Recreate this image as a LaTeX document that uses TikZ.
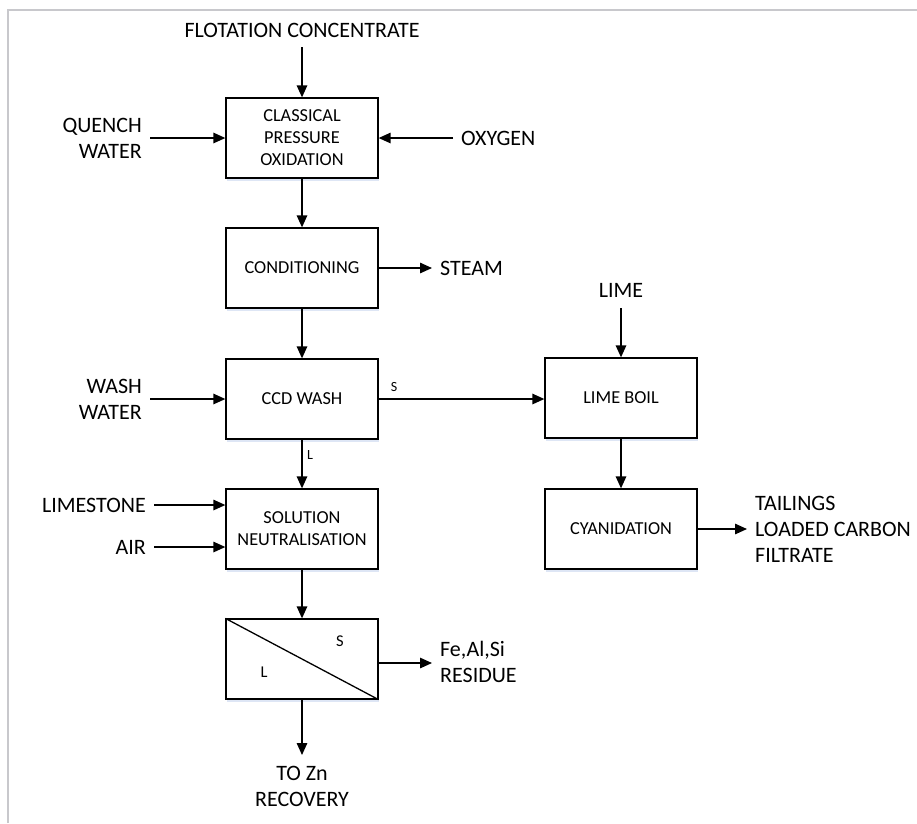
\documentclass[tikz,border=0pt]{standalone}
\usepackage{fontspec}
\setmainfont{Carlito}
\usetikzlibrary{arrows.meta,shadows}
\definecolor{frame}{RGB}{200,200,204}
\definecolor{shade}{RGB}{190,205,235}
\begin{document}
\begin{tikzpicture}[x=1pt,y=-1pt,
 box/.style={draw,line width=1.3pt,minimum width=152pt,minimum height=80pt,align=center,
   font=\fontsize{18.3}{22}\selectfont,fill=white,inner sep=0pt,
   drop shadow={shadow xshift=1pt,shadow yshift=-2.5pt,fill=shade,opacity=0.5}},
 lab/.style={font=\fontsize{22}{26}\selectfont,inner sep=0pt},
 small/.style={font=\fontsize{14}{16}\selectfont,inner sep=0pt},
 mid/.style={font=\fontsize{16.5}{18}\selectfont,inner sep=0pt},
 flow/.style={line width=1.4pt,-{Triangle[length=12pt,width=10.5pt]}}]
\useasboundingbox (0,0) rectangle (917,823);
\draw[frame,line width=1.5pt] (8,823) -- (8,10) -- (917,10);

% process boxes
\node[box] (cpo)  at (302,138) {CLASSICAL\\PRESSURE\\OXIDATION};
\node[box] (cond) at (302,268) {CONDITIONING};
\node[box] (ccd)  at (302,399) {CCD WASH};
\node[box] (neut) at (302,529) {SOLUTION\\NEUTRALISATION};
\node[box] (sep)  at (302,659) {};
\node[box] (boil) at (621,398) {LIME BOIL};
\node[box] (cyan) at (621,529) {CYANIDATION};
\draw[line width=1.3pt] (sep.north west) -- (sep.south east);
\node[mid] (sepS) at (340,641) {S};
\node[mid] (sepL) at (264,672) {L};

% labels
\node[lab] (flot) at (302,30) {FLOTATION CONCENTRATE};
\node[lab,align=right,anchor=east] (quench) at (142,138) {QUENCH\\WATER};
\node[lab,anchor=west] (oxy) at (461,138) {OXYGEN};
\node[lab,anchor=west] (steam) at (440,268) {STEAM};
\node[lab,align=right,anchor=east] (wash) at (142,399) {WASH\\WATER};
\node[lab] (lime) at (621,290) {LIME};
\node[lab,anchor=east] (limestone) at (146,505) {LIMESTONE};
\node[lab,anchor=east] (air) at (146,547) {AIR};
\node[lab,align=left,anchor=west] (tail) at (755,529) {TAILINGS\\LOADED CARBON\\FILTRATE};
\node[lab,align=left,anchor=west] (fe) at (440,662) {Fe,Al,Si\\RESIDUE};
\node[lab,align=center] (zn) at (302,786) {TO Zn\\RECOVERY};
\node[small] (ccdS) at (394,387) {S};
\node[small] (ccdL) at (310,455) {L};

% free ends
\coordinate (flotA) at (302,47);
\coordinate (quenchA) at (150,138);
\coordinate (oxyA) at (453,138);
\coordinate (steamA) at (432,268);
\coordinate (washA) at (150,399);
\coordinate (limeA) at (621,308);
\coordinate (limestoneA) at (154,505);
\coordinate (airA) at (154,547);
\coordinate (tailA) at (747,529);
\coordinate (feA) at (432,663);
\coordinate (znA) at (302,755);

% connectors
\draw[flow] (flotA) -- (cpo.north);
\draw[flow] (quenchA) -- (cpo.west);
\draw[flow] (oxyA) -- (cpo.east);
\draw[flow] (cpo.south) -- (cond.north);
\draw[flow] (cond.east) -- (steamA);
\draw[flow] (cond.south) -- (ccd.north);
\draw[flow] (washA) -- (ccd.west);
\draw[flow] (ccd.east) -- (boil.west |- ccd.east);
\draw[flow] (limeA) -- (boil.north);
\draw[flow] (boil.south) -- (cyan.north);
\draw[flow] (cyan.east) -- (tailA);
\draw[flow] (ccd.south) -- (neut.north);
\draw[flow] (limestoneA) -- (neut.west |- limestoneA);
\draw[flow] (airA) -- (neut.west |- airA);
\draw[flow] (neut.south) -- (sep.north);
\draw[flow] (sep.east |- feA) -- (feA);
\draw[flow] (sep.south) -- (znA);
\end{tikzpicture}
\end{document}
